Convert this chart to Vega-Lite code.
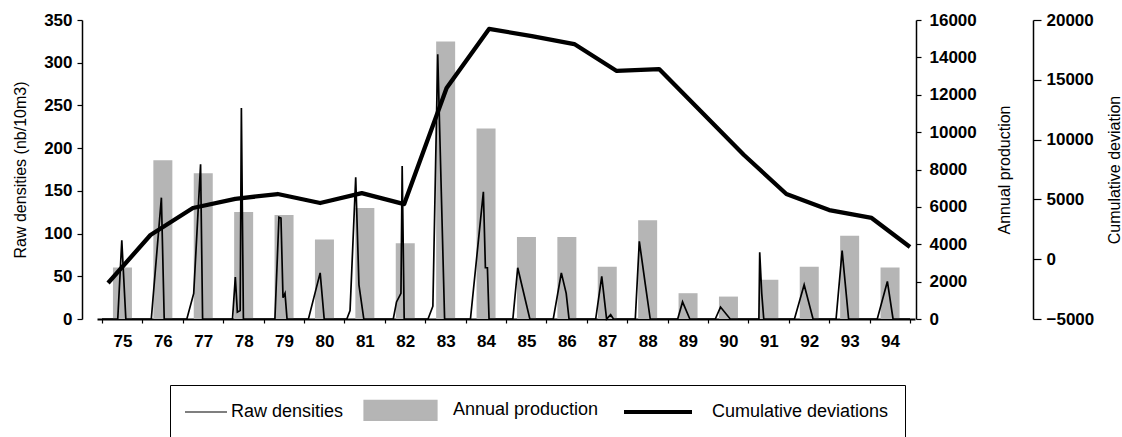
{
  "$schema": "https://vega.github.io/schema/vega-lite/v6.json",
  "width": 818,
  "height": 299,
  "autosize": {"type": "none"},
  "padding": {"left": 97, "top": 20, "right": 207, "bottom": 118},
  "background": "white",
  "config": {
    "view": {"stroke": null},
    "font": "Liberation Sans",
    "axis": {
      "grid": false,
      "domainColor": "black",
      "tickColor": "black",
      "labelColor": "black",
      "titleColor": "black",
      "labelFont": "Liberation Sans",
      "titleFont": "Liberation Sans",
      "labelFontSize": 17,
      "labelFontWeight": "bold",
      "titleFontSize": 16,
      "titleFontWeight": "normal",
      "domainWidth": 1.5,
      "tickWidth": 1.2
    }
  },
  "datasets": {
    "production": [
      {"year": 75, "production": 2750},
      {"year": 76, "production": 8500},
      {"year": 77, "production": 7800},
      {"year": 78, "production": 5720},
      {"year": 79, "production": 5570},
      {"year": 80, "production": 4250},
      {"year": 81, "production": 5940},
      {"year": 82, "production": 4050},
      {"year": 83, "production": 14850},
      {"year": 84, "production": 10200},
      {"year": 85, "production": 4390},
      {"year": 86, "production": 4390},
      {"year": 87, "production": 2800},
      {"year": 88, "production": 5280},
      {"year": 89, "production": 1380},
      {"year": 90, "production": 1200},
      {"year": 91, "production": 2100},
      {"year": 92, "production": 2800},
      {"year": 93, "production": 4450},
      {"year": 94, "production": 2750}
    ],
    "raw": [
      {"t": 75.0, "density": 0}, {"t": 75.39, "density": 0}, {"t": 75.49, "density": 92}, {"t": 75.59, "density": 0},
      {"t": 76.22, "density": 0}, {"t": 76.47, "density": 142}, {"t": 76.54, "density": 0},
      {"t": 77.10, "density": 0}, {"t": 77.27, "density": 30}, {"t": 77.44, "density": 181}, {"t": 77.49, "density": 0},
      {"t": 78.23, "density": 0}, {"t": 78.30, "density": 49}, {"t": 78.35, "density": 8}, {"t": 78.42, "density": 10}, {"t": 78.45, "density": 247}, {"t": 78.50, "density": 0},
      {"t": 79.28, "density": 0}, {"t": 79.38, "density": 119}, {"t": 79.43, "density": 118}, {"t": 79.48, "density": 25}, {"t": 79.53, "density": 30}, {"t": 79.58, "density": 0},
      {"t": 80.11, "density": 0}, {"t": 80.40, "density": 54}, {"t": 80.50, "density": 0},
      {"t": 81.06, "density": 0}, {"t": 81.14, "density": 10}, {"t": 81.28, "density": 166}, {"t": 81.36, "density": 40}, {"t": 81.48, "density": 0},
      {"t": 82.21, "density": 0}, {"t": 82.29, "density": 20}, {"t": 82.40, "density": 30}, {"t": 82.43, "density": 179}, {"t": 82.48, "density": 0},
      {"t": 83.07, "density": 0}, {"t": 83.19, "density": 15}, {"t": 83.31, "density": 310}, {"t": 83.48, "density": 0},
      {"t": 84.12, "density": 0}, {"t": 84.44, "density": 149}, {"t": 84.49, "density": 60}, {"t": 84.54, "density": 60}, {"t": 84.58, "density": 0},
      {"t": 85.17, "density": 0}, {"t": 85.29, "density": 60}, {"t": 85.59, "density": 0},
      {"t": 86.17, "density": 0}, {"t": 86.37, "density": 54}, {"t": 86.49, "density": 30}, {"t": 86.56, "density": 0},
      {"t": 87.22, "density": 0}, {"t": 87.37, "density": 50}, {"t": 87.49, "density": 0}, {"t": 87.59, "density": 5}, {"t": 87.66, "density": 0},
      {"t": 88.20, "density": 0}, {"t": 88.30, "density": 91}, {"t": 88.45, "density": 40}, {"t": 88.57, "density": 0},
      {"t": 89.25, "density": 0}, {"t": 89.37, "density": 20}, {"t": 89.55, "density": 0},
      {"t": 90.18, "density": 0}, {"t": 90.31, "density": 14}, {"t": 90.55, "density": 0},
      {"t": 91.26, "density": 0}, {"t": 91.28, "density": 78}, {"t": 91.33, "density": 30}, {"t": 91.38, "density": 0},
      {"t": 92.14, "density": 0}, {"t": 92.38, "density": 40}, {"t": 92.60, "density": 0},
      {"t": 93.17, "density": 0}, {"t": 93.32, "density": 80}, {"t": 93.48, "density": 0},
      {"t": 94.19, "density": 0}, {"t": 94.44, "density": 44}, {"t": 94.58, "density": 0},
      {"t": 95.0, "density": 0}
    ],
    "cumdev": [
      {"t": 75.15, "deviation": -1990},
      {"t": 76.20, "deviation": 2020},
      {"t": 77.25, "deviation": 4280},
      {"t": 78.30, "deviation": 5050},
      {"t": 79.35, "deviation": 5450},
      {"t": 80.40, "deviation": 4700},
      {"t": 81.43, "deviation": 5530},
      {"t": 82.48, "deviation": 4610},
      {"t": 83.53, "deviation": 14310},
      {"t": 84.58, "deviation": 19250},
      {"t": 85.64, "deviation": 18660},
      {"t": 86.69, "deviation": 17990},
      {"t": 87.74, "deviation": 15740},
      {"t": 88.79, "deviation": 15900},
      {"t": 89.84, "deviation": 12300},
      {"t": 90.89, "deviation": 8710},
      {"t": 91.94, "deviation": 5450},
      {"t": 93.00, "deviation": 4110},
      {"t": 94.05, "deviation": 3450},
      {"t": 95.0, "deviation": 1020}
    ]
  },
  "layer": [
    {
      "data": {"name": "production"},
      "mark": {"type": "bar", "width": 19, "xOffset": 20.45},
      "encoding": {
        "x": {
          "field": "year",
          "type": "quantitative",
          "scale": {"domain": [75, 95], "nice": false, "zero": false},
          "axis": {
            "title": null,
            "values": [75, 76, 77, 78, 79, 80, 81, 82, 83, 84, 85, 86, 87, 88, 89, 90, 91, 92, 93, 94, 95],
            "labelExpr": "datum.value < 95 ? datum.label : ''",
            "labelOffset": 20.45,
            "tickSize": 4,
            "labelPadding": 10,
            "domainWidth": 2,
            "labelFlush": false,
            "labelOverlap": false
          }
        },
        "y": {
          "field": "production",
          "type": "quantitative",
          "scale": {"domain": [0, 16000], "nice": false},
          "axis": {
            "orient": "right",
            "title": "Annual production",
            "values": [0, 2000, 4000, 6000, 8000, 10000, 12000, 14000, 16000],
            "format": "d",
            "offset": 1,
            "tickSize": 5,
            "labelPadding": 8,
            "titleAngle": 270,
            "titlePadding": 36
          }
        },
        "color": {
          "datum": "Annual production",
          "type": "nominal",
          "scale": {
            "domain": ["Raw densities", "Annual production", "Cumulative deviations"],
            "range": ["black", "#b5b5b5", "black"]
          },
          "legend": {
            "orient": "none",
            "legendX": 73,
            "legendY": 365,
            "direction": "horizontal",
            "title": null,
            "padding": 16,
            "strokeColor": "black",
            "symbolSize": 400,
            "symbolStrokeWidth": 1.5,
            "labelOffset": 27,
            "labelFontSize": 18,
            "labelFont": "Liberation Sans",
            "labelColor": "black",
            "labelLimit": 400,
            "columnPadding": 17,
            "encode": {
              "symbols": {
                "update": {
                  "shape": {"signal": "datum.value === 'Annual production' ? 'M-5.3,-1H2V1H-5.3Z' : (datum.value === 'Raw densities' ? 'M-1,0H3.2' : 'M-5.2,0H1.6')"},
                  "fill": {"signal": "datum.value === 'Annual production' ? '#b5b5b5' : 'transparent'"},
                  "stroke": {"signal": "datum.value === 'Annual production' ? 'transparent' : 'black'"},
                  "strokeWidth": {"signal": "datum.value === 'Cumulative deviations' ? 4 : 1.2"},
                  "opacity": {"value": 1}
                }
              }
            }
          }
        }
      }
    },
    {
      "data": {"name": "raw"},
      "mark": {"type": "line", "strokeWidth": 1.7},
      "encoding": {
        "x": {"field": "t", "type": "quantitative"},
        "y": {
          "field": "density",
          "type": "quantitative",
          "scale": {"domain": [0, 350], "nice": false},
          "axis": {
            "orient": "left",
            "title": "Raw densities (nb/10m3)",
            "values": [0, 50, 100, 150, 200, 250, 300, 350],
            "offset": 15,
            "tickSize": 5,
            "labelPadding": 5,
            "titlePadding": 15
          }
        },
        "color": {"datum": "Raw densities", "type": "nominal"}
      }
    },
    {
      "data": {"name": "cumdev"},
      "mark": {"type": "line", "strokeWidth": 4.3, "strokeJoin": "round"},
      "encoding": {
        "x": {"field": "t", "type": "quantitative"},
        "y": {
          "field": "deviation",
          "type": "quantitative",
          "scale": {"domain": [-5000, 20000], "nice": false},
          "axis": {
            "orient": "right",
            "title": "Cumulative deviation",
            "values": [-5000, 0, 5000, 10000, 15000, 20000],
            "format": "d",
            "offset": 118,
            "tickSize": 8,
            "labelPadding": 5,
            "titleAngle": 270,
            "titlePadding": 29
          }
        },
        "color": {"datum": "Cumulative deviations", "type": "nominal"}
      }
    }
  ],
  "resolve": {"scale": {"y": "independent"}}
}
